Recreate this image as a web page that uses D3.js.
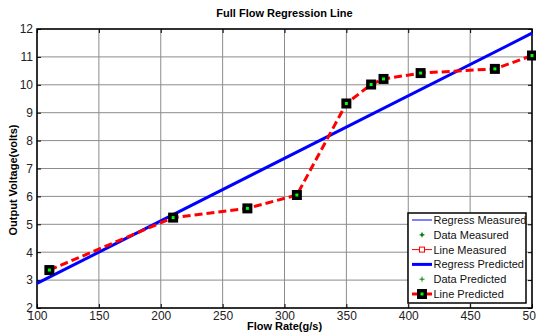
<!DOCTYPE html>
<html>
<head>
<meta charset="utf-8">
<script src="https://cdn.jsdelivr.net/npm/d3@7"></script>
<style>
  body { margin: 0; background: #fff; }
  text { font-family: "Liberation Sans", Arial, sans-serif; }
</style>
</head>
<body>
<script>
// data
var flowRate = [110, 210, 270, 310, 350, 370, 380, 410, 470, 500];
var voltage = [3.36, 5.24, 5.57, 6.05, 9.33, 10.01, 10.21, 10.42, 10.57, 11.05];
var regressX = [100, 500];
var regressY = [2.88, 11.85];
var xTicks = [100, 150, 200, 250, 300, 350, 400, 450, 500];
var yTicks = [2, 3, 4, 5, 6, 7, 8, 9, 10, 11, 12];
var legendLabels = ["Regress Measured", "Data Measured", "Line Measured",
                    "Regress Predicted", "Data Predicted", "Line Predicted"];

var margin = {top: 29, right: 4, bottom: 28, left: 37},
    outerWidth = 536,
    outerHeight = 336,
    width = outerWidth - margin.left - margin.right,
    height = outerHeight - margin.top - margin.bottom;

var x = d3.scaleLinear().domain([100, 500]).range([0, width]);
var y = d3.scaleLinear().domain([2, 12]).range([height, 0]);

var svg = d3.select("body")
    .append("svg")
    .attr("width", outerWidth)
    .attr("height", outerHeight)
    .append("g")
    .attr("transform", "translate(" + margin.left + "," + margin.top + ")");

// grid
svg.selectAll(".gx").data(xTicks).enter().append("line")
    .attr("x1", function(d) { return x(d); }).attr("x2", function(d) { return x(d); })
    .attr("y1", 0).attr("y2", height)
    .attr("stroke", "#8c8c8c").attr("stroke-width", 1);
svg.selectAll(".gy").data(yTicks).enter().append("line")
    .attr("y1", function(d) { return y(d); }).attr("y2", function(d) { return y(d); })
    .attr("x1", 0).attr("x2", width)
    .attr("stroke", "#8c8c8c").attr("stroke-width", 1);

// axes (ticks inward, mirrored on top/right)
var xAxis = d3.axisBottom(x).tickValues(xTicks).tickSize(-4).tickPadding(3.5);
var yAxis = d3.axisLeft(y).tickValues(yTicks).tickSize(-4).tickPadding(4);

var gx = svg.append("g").attr("transform", "translate(0," + height + ")").call(xAxis);
var gy = svg.append("g").call(yAxis);
svg.append("g").call(d3.axisTop(x).tickValues(xTicks).tickSize(-4).tickFormat(""));
svg.append("g").attr("transform", "translate(" + width + ",0)")
    .call(d3.axisRight(y).tickValues(yTicks).tickSize(-4).tickFormat(""));

svg.selectAll(".domain").remove();
[gx, gy].forEach(function(g) {
    g.selectAll("text").attr("font-size", "12px").attr("fill", "#222")
        .style("font-family", "'Liberation Sans', Arial, sans-serif");
});
svg.selectAll(".tick line").attr("stroke", "#000");

svg.append("rect")
    .attr("width", width).attr("height", height)
    .attr("fill", "none").attr("stroke", "#000").attr("stroke-width", 1.5);

// regression lines
var line = d3.line().x(function(d) { return x(d[0]); }).y(function(d) { return y(d[1]); });
var regPts = d3.zip(regressX, regressY);
svg.append("path").datum(regPts).attr("d", line)
    .attr("stroke", "#0000ff").attr("stroke-width", 1).attr("fill", "none");
svg.append("path").datum(regPts).attr("d", line)
    .attr("stroke", "#0000ff").attr("stroke-width", 3).attr("fill", "none");

// predicted line
var pts = d3.zip(flowRate, voltage);
svg.append("path").datum(pts).attr("d", line)
    .attr("stroke", "#ff0000").attr("stroke-width", 3)
    .attr("stroke-dasharray", "8,4").attr("fill", "none");

function marker(g, cx, cy) {
    g.append("rect").attr("x", cx - 5).attr("y", cy - 5).attr("width", 10).attr("height", 10)
        .attr("fill", "#000");
    g.append("rect").attr("x", cx - 1.5).attr("y", cy - 1.5).attr("width", 3).attr("height", 3)
        .attr("fill", "#00ff00");
}
pts.forEach(function(p) { marker(svg, x(p[0]), y(p[1])); });

// title & labels
svg.append("text")
    .attr("x", width / 2).attr("y", -12)
    .attr("text-anchor", "middle").attr("font-size", "11px").attr("font-weight", "700")
    .text("Full Flow Regression Line");
svg.append("text")
    .attr("x", width / 2).attr("y", height + 22)
    .attr("text-anchor", "middle").attr("font-size", "11px").attr("font-weight", "700")
    .text("Flow Rate(g/s)");
svg.append("text")
    .attr("transform", "rotate(-90)")
    .attr("x", -(180 - margin.top)).attr("y", -20)
    .attr("text-anchor", "middle").attr("font-size", "11px").attr("font-weight", "700")
    .text("Output Voltage(volts)");

// legend
var lg = svg.append("g").attr("transform", "translate(" + (408 - margin.left) + "," + (213 - margin.top) + ")");
lg.append("rect").attr("width", 118).attr("height", 90)
    .attr("fill", "#fff").attr("stroke", "#000").attr("stroke-width", 1.5);
var rowH = 14.8;
legendLabels.forEach(function(lab, i) {
    var cy = 7 + i * rowH;
    var row = lg.append("g").attr("transform", "translate(0," + cy + ")");
    if (i == 0) row.append("line").attr("x1", 4).attr("x2", 24).attr("stroke", "#0000ff").attr("stroke-width", 1);
    if (i == 1 || i == 4) {
        row.append("line").attr("x1", 14).attr("x2", 14).attr("y1", -2.5).attr("y2", 2.5).attr("stroke", "#008000").attr("stroke-width", 1);
        row.append("line").attr("x1", 11.5).attr("x2", 16.5).attr("stroke", "#008000").attr("stroke-width", 1);
        if (i == 1) row.append("circle").attr("cx", 14).attr("r", 1.5).attr("fill", "#008000");
    }
    if (i == 2) {
        row.append("line").attr("x1", 4).attr("x2", 24).attr("stroke", "#ff0000").attr("stroke-width", 1);
        row.append("rect").attr("x", 11.5).attr("y", -2.5).attr("width", 5).attr("height", 5)
            .attr("fill", "#fff").attr("stroke", "#ff0000").attr("stroke-width", 1);
    }
    if (i == 3) row.append("line").attr("x1", 4).attr("x2", 24).attr("stroke", "#0000ff").attr("stroke-width", 3);
    if (i == 5) {
        row.append("line").attr("x1", 4).attr("x2", 24).attr("stroke", "#ff0000").attr("stroke-width", 3);
        marker(row, 14, 0);
    }
    row.append("text").attr("x", 25.5).attr("y", 4)
        .attr("font-size", "11px").attr("fill", "#111").text(lab);
});
</script>
</body>
</html>
